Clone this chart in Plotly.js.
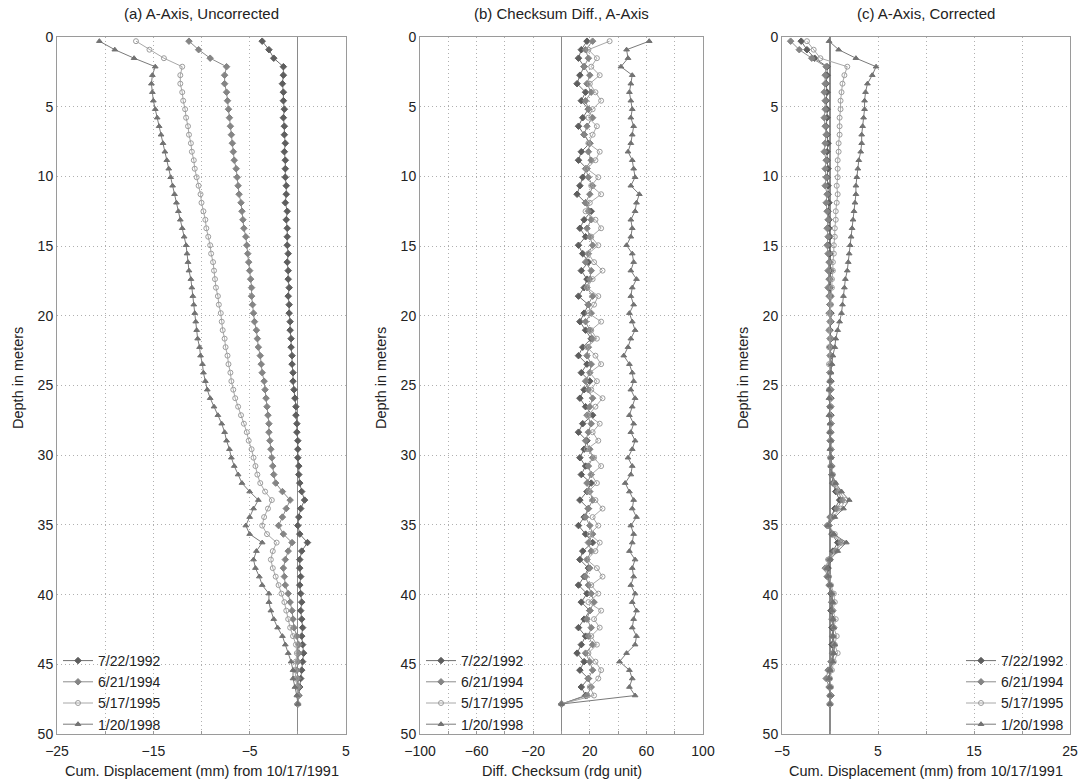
<!DOCTYPE html>
<html>
<head>
<meta charset="utf-8">
<script src="https://cdn.plot.ly/plotly-3.0.1.min.js"></script>
<style>html,body{margin:0;padding:0;background:#fff;}#chart{width:1083px;height:782px;}</style>
</head>
<body>
<div id="chart"></div>
<script>
// Depth (m) of each reading (2-ft interval)
const depth = [0.30,0.91,1.52,2.13,2.74,3.35,3.96,4.57,5.18,5.79,6.40,7.01,7.62,8.23,8.84,9.45,10.06,10.67,11.28,11.89,12.50,13.11,13.72,14.33,14.94,15.54,16.15,16.76,17.37,17.98,18.59,19.20,19.81,20.42,21.03,21.64,22.25,22.86,23.47,24.08,24.69,25.30,25.91,26.52,27.13,27.74,28.35,28.96,29.57,30.18,30.78,31.39,32.00,32.61,33.22,33.83,34.44,35.05,35.66,36.27,36.88,37.49,38.10,38.71,39.32,39.93,40.54,41.15,41.76,42.37,42.98,43.59,44.20,44.81,45.42,46.02,46.63,47.24,47.85];

const seriesNames = ["7/22/1992","6/21/1994","5/17/1995","1/20/1998"];

// (a) A-Axis, Uncorrected
const a1992 = [-3.7,-3.0,-2.5,-1.5,-1.5,-1.6,-1.5,-1.5,-1.4,-1.5,-1.4,-1.4,-1.3,-1.4,-1.3,-1.3,-1.3,-1.2,-1.2,-1.3,-1.1,-1.2,-1.1,-1.1,-1.1,-1.0,-1.1,-1.0,-1.0,-0.9,-1.0,-0.9,-0.9,-0.8,-0.8,-0.7,-0.7,-0.6,-0.6,-0.5,-0.5,-0.4,-0.3,-0.2,-0.2,-0.1,-0.1,0.0,0.0,0.0,0.1,0.1,0.2,0.4,0.7,0.3,0.1,0.0,0.2,1.0,0.4,0.2,0.2,0.3,0.2,0.3,0.4,0.3,0.4,0.5,0.4,0.5,0.6,0.5,0.4,0.3,0.2,0.1,0];
const a1994 = [-11.3,-10.3,-9.1,-7.4,-7.6,-7.6,-7.4,-7.3,-7.2,-7.1,-7.0,-6.9,-6.8,-6.7,-6.6,-6.4,-6.3,-6.2,-6.1,-5.9,-5.8,-5.7,-5.6,-5.4,-5.3,-5.2,-5.1,-5.0,-4.9,-4.8,-4.8,-4.7,-4.6,-4.5,-4.3,-4.2,-4.1,-3.9,-3.8,-3.7,-3.5,-3.4,-3.3,-3.2,-3.1,-3.0,-3.0,-2.9,-2.8,-2.7,-2.6,-2.5,-2.3,-1.6,-0.8,-1.2,-1.6,-2.0,-1.5,-0.6,-1.0,-1.3,-1.5,-1.4,-1.3,-1.0,-0.8,-0.6,-0.5,-0.4,-0.1,0.1,0.1,0.0,-0.1,0.0,0.1,0.0,0];
const a1995 = [-16.8,-15.4,-13.9,-12.0,-12.2,-12.2,-12.0,-11.9,-11.7,-11.6,-11.4,-11.3,-11.1,-11.0,-10.8,-10.7,-10.5,-10.3,-10.1,-10.0,-9.8,-9.6,-9.5,-9.3,-9.1,-9.0,-8.8,-8.7,-8.6,-8.5,-8.3,-8.2,-8.0,-7.9,-7.8,-7.6,-7.5,-7.3,-7.2,-7.0,-6.9,-6.7,-6.5,-6.2,-5.9,-5.6,-5.3,-5.1,-4.8,-4.6,-4.4,-4.2,-3.9,-3.4,-2.7,-3.1,-3.5,-3.7,-3.2,-2.2,-2.6,-2.8,-2.6,-2.3,-2.0,-1.7,-1.4,-1.2,-1.0,-0.8,-0.5,-0.2,-0.1,-0.2,-0.3,-0.2,-0.1,0.0,0];
const a1998 = [-20.6,-19.0,-17.0,-14.8,-15.1,-15.2,-15.1,-15.0,-14.8,-14.6,-14.4,-14.2,-14.0,-13.8,-13.6,-13.4,-13.2,-13.0,-12.8,-12.6,-12.4,-12.2,-12.0,-11.8,-11.6,-11.5,-11.4,-11.3,-11.1,-11.0,-10.9,-10.8,-10.7,-10.6,-10.5,-10.4,-10.2,-10.1,-9.9,-9.8,-9.6,-9.4,-9.1,-8.7,-8.3,-7.9,-7.6,-7.4,-7.1,-6.9,-6.6,-6.2,-5.8,-5.0,-4.1,-4.6,-5.0,-5.4,-5.0,-3.7,-4.3,-4.6,-4.4,-4.0,-3.7,-3.0,-3.0,-2.8,-2.5,-2.1,-1.6,-1.3,-1.0,-0.7,-0.5,-0.5,-0.3,-0.1,0];

// (b) Checksum Diff., A-Axis
const b1992 = [18,14,12,16,13,11,17,14,19,15,12,16,20,14,12,18,15,13,11,17,21,16,13,17,12,15,19,14,18,16,12,19,16,13,17,21,15,12,18,14,20,16,13,17,22,15,12,18,16,13,17,14,21,18,13,19,16,12,17,22,15,13,19,16,12,18,14,20,16,12,17,14,11,16,13,19,14,17,0];
const b1994 = [22,17,19,16,20,18,21,17,19,22,18,16,20,19,21,17,19,22,20,17,19,21,18,20,22,19,17,21,20,18,22,19,21,17,20,22,19,18,21,20,17,19,22,20,18,21,19,17,20,22,19,21,18,20,22,19,17,20,22,19,21,18,20,17,19,21,23,20,18,21,19,22,17,20,22,19,21,18,0];
const b1995 = [34,19,25,21,27,20,24,28,22,19,25,22,19,27,24,18,26,21,28,20,17,24,28,21,26,19,23,29,22,18,26,23,19,28,21,25,18,24,28,20,25,21,29,24,19,27,22,26,18,23,28,21,25,19,24,29,22,26,20,27,24,18,25,29,21,26,19,28,23,27,21,25,19,24,28,26,20,23,0];
const b1998 = [62,46,47,42,50,49,48,49,50,49,51,50,49,47,50,51,52,49,55,53,52,49,50,49,46,50,51,49,53,50,49,51,48,50,52,49,47,44,48,50,51,49,52,50,48,51,49,52,50,47,50,49,45,48,51,50,53,49,51,50,48,52,50,51,49,52,50,53,51,50,53,52,46,41,48,50,48,52,0];

// (c) A-Axis, Corrected
const c1992 = [-3.0,-2.4,-1.6,-0.3,-0.3,-0.4,-0.3,-0.4,-0.3,-0.3,-0.4,-0.3,-0.2,-0.3,-0.3,-0.2,-0.3,-0.2,-0.2,-0.1,-0.2,-0.1,-0.1,0.0,-0.1,0.0,0.0,0.1,0.0,0.0,0.1,0.0,0.1,0.1,0.0,0.1,0.0,0.1,0.1,0.0,0.1,0.0,0.1,0.0,0.1,0.1,0.0,0.1,0.1,0.1,0.1,0.2,0.3,0.6,1.0,0.5,0.1,-0.1,0.2,0.8,0.3,0.0,-0.2,-0.2,0.0,0.1,0.2,0.1,0.3,0.2,0.3,0.2,0.3,0.2,0.0,-0.1,0.0,0.1,0];
const c1994 = [-4.1,-3.2,-1.9,-0.4,-0.5,-0.5,-0.6,-0.5,-0.5,-0.6,-0.5,-0.4,-0.5,-0.6,-0.4,-0.5,-0.4,-0.5,-0.3,-0.4,-0.3,-0.2,-0.3,-0.2,-0.3,-0.2,-0.1,-0.2,-0.1,-0.2,-0.1,0.0,-0.1,0.0,-0.1,0.0,0.1,0.0,0.1,0.0,0.0,0.1,0.0,0.1,0.0,0.1,0.1,0.0,0.1,0.1,0.2,0.2,0.4,0.8,1.3,0.7,0.0,-0.3,0.3,1.1,0.5,-0.1,-0.5,-0.3,-0.1,0.2,0.2,0.3,0.2,0.4,0.3,0.4,0.3,0.1,-0.2,-0.4,-0.1,0.0,0];
const c1995 = [-2.4,-1.7,-1.0,1.8,1.5,1.3,1.2,1.1,1.1,1.0,1.0,1.0,0.9,0.9,0.8,0.8,0.8,0.7,0.8,0.7,0.6,0.6,0.5,0.5,0.4,0.4,0.3,0.3,0.2,0.2,0.1,0.1,0.0,0.0,-0.1,0.0,-0.1,0.0,-0.1,0.0,0.0,-0.1,0.0,0.1,0.0,0.1,0.0,0.1,0.1,0.0,0.1,0.3,0.5,1.0,1.6,1.1,0.3,-0.1,0.5,1.3,0.6,-0.2,-0.4,-0.1,0.1,0.4,0.5,0.3,0.6,0.4,0.7,0.5,0.8,0.4,0.2,0.0,0.1,0.0,0];
const c1998 = [-0.1,0.9,2.7,4.8,4.4,3.9,3.7,3.6,3.6,3.5,3.4,3.3,3.3,3.2,3.0,2.9,2.8,2.7,2.7,2.6,2.5,2.4,2.3,2.2,2.1,2.0,1.9,1.8,1.6,1.5,1.4,1.3,1.2,1.0,0.8,0.6,0.5,0.3,0.2,0.1,0.0,-0.1,-0.1,0.0,-0.1,0.0,0.0,0.1,0.0,0.1,0.1,0.2,0.6,1.2,2.0,1.4,0.5,-0.2,0.4,1.7,0.8,0.0,-0.3,-0.2,0.0,0.2,0.3,0.2,0.3,0.4,0.3,0.5,0.4,0.3,0.0,-0.1,0.0,0.0,0];

const panelTitles = ["(a) A-Axis, Uncorrected","(b) Checksum Diff., A-Axis","(c) A-Axis, Corrected"];
const xTitles = ["Cum. Displacement (mm) from 10/17/1991","Diff. Checksum (rdg unit)","Cum. Displacement (mm) from 10/17/1991"];
const yTitle = "Depth in meters";

const panelData = [[a1992,a1994,a1995,a1998],[b1992,b1994,b1995,b1998],[c1992,c1994,c1995,c1998]];

const styles = [
  {line:'#707070', marker:'#5e5e5e', symbol:'diamond', size:5},
  {line:'#8c8c8c', marker:'#858585', symbol:'diamond', size:5},
  {line:'#a8a8a8', marker:'#9c9c9c', symbol:'circle-open', size:5},
  {line:'#7a7a7a', marker:'#727272', symbol:'triangle-up', size:5}
];

const FONT = "Liberation Sans, Arial, sans-serif";
const W = 1083, H = 782;
const xPix = [[57,346],[420,703],[782,1070]];
const yTop = 37, yBot = 734;
const yDom = [1 - yBot/H, 1 - yTop/H];
const legendNames = ['legend','legend2','legend3'];

const traces = [];
panelData.forEach((sets, p) => {
  sets.forEach((vals, s) => {
    const st = styles[s];
    traces.push({
      type:'scatter', mode:'lines+markers',
      x: vals, y: depth,
      name: seriesNames[s],
      xaxis: p===0 ? 'x' : 'x'+(p+1),
      yaxis: p===0 ? 'y' : 'y'+(p+1),
      legend: legendNames[p],
      line:{color:st.line, width:1},
      marker:{symbol:st.symbol, size:st.size, color:st.marker, line:{color:st.marker, width:1}},
      cliponaxis:false
    });
  });
});

const xRanges = [[-25,5],[-100,100],[-5,25]];
const xMajor = [10,40,10];
const xMinor = [5,20,5];
const GRID = '#b0b0b0';
const DASH = '1px,3px';

const layout = {
  width:W, height:H,
  margin:{l:0,r:0,t:0,b:0},
  paper_bgcolor:'#fff', plot_bgcolor:'#fff',
  font:{family:FONT, size:14, color:'#222'},
  showlegend:true,
  annotations:[]
};

for (let p=0;p<3;p++){
  const xk = p===0 ? 'xaxis' : 'xaxis'+(p+1);
  const yk = p===0 ? 'yaxis' : 'yaxis'+(p+1);
  const ya = p===0 ? 'y' : 'y'+(p+1);
  const xa = p===0 ? 'x' : 'x'+(p+1);
  layout[xk] = {
    domain:[xPix[p][0]/W, xPix[p][1]/W], anchor:ya,
    range:xRanges[p], tick0:xRanges[p][0], dtick:xMajor[p],
    showgrid:true, gridcolor:GRID, griddash:DASH, gridwidth:1,
    minor:{dtick:xMinor[p], tick0:xRanges[p][0], showgrid:true, gridcolor:GRID, griddash:DASH, ticks:'inside', ticklen:3, tickcolor:'#999'},
    zeroline:true, zerolinecolor:'#8a8a8a', zerolinewidth:1.3,
    showline:true, linecolor:'#9a9a9a', linewidth:1, mirror:true,
    ticks:'inside', ticklen:3, tickcolor:'#999',
    ticklabelstandoff:4,
    tickfont:{family:FONT, size:14, color:'#222'},
    fixedrange:true
  };
  layout[yk] = {
    domain:yDom, anchor:xa,
    range:[50,0], tick0:0, dtick:5,
    showgrid:true, gridcolor:GRID, griddash:DASH, gridwidth:1,
    zeroline:false,
    showline:true, linecolor:'#9a9a9a', linewidth:1, mirror:true,
    ticks:'', tickfont:{family:FONT, size:14, color:'#222'},
    fixedrange:true
  };
  const cx = (xPix[p][0]+xPix[p][1])/2/W;
  layout.annotations.push({text:panelTitles[p], xref:'paper', yref:'paper', x:cx, y:1-14/H, xanchor:'center', yanchor:'middle', showarrow:false, font:{family:FONT,size:15,color:'#222'}});
  layout.annotations.push({text:xTitles[p], xref:'paper', yref:'paper', x:cx, y:1-771/H, xanchor:'center', yanchor:'middle', showarrow:false, font:{family:FONT,size:14.5,color:'#222'}});
  layout.annotations.push({text:yTitle, xref:'paper', yref:'paper', x:(xPix[p][0]-39)/W, y:1-378/H, xanchor:'center', yanchor:'middle', textangle:-90, showarrow:false, font:{family:FONT,size:14.5,color:'#222'}});
}

const legStyle = {font:{family:FONT,size:14,color:'#222'}, bgcolor:'rgba(255,255,255,0)', borderwidth:0, tracegroupgap:0, itemwidth:30, yanchor:'bottom', y:1-740/H};
layout.legend  = Object.assign({}, legStyle, {x:(xPix[0][0]+1)/W, xanchor:'left'});
layout.legend2 = Object.assign({}, legStyle, {x:(xPix[1][0]+1)/W, xanchor:'left'});
layout.legend3 = Object.assign({}, legStyle, {x:(xPix[2][1]-1)/W, xanchor:'right'});

Plotly.newPlot('chart', traces, layout, {displayModeBar:false, staticPlot:true});
</script>
</body>
</html>
